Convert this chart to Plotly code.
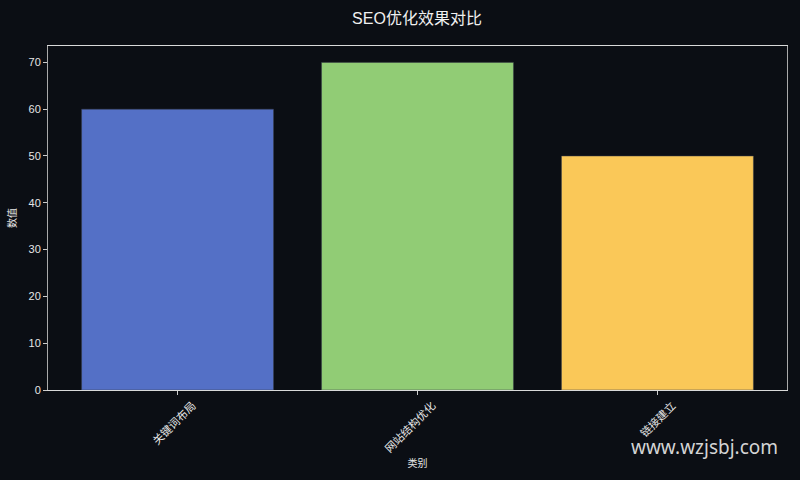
import plotly.graph_objects as go

# chart data
categories = ['关键词布局', '网站结构优化', '链接建立']
values = [60, 70, 50]
bar_colors = ['#5470c6', '#91cc75', '#fac858']

title_text = 'SEO优化效果对比'
x_title = '类别'
y_title = '数值'
watermark = 'www.wzjsbj.com'

bg = '#0b0e14'
fg = '#e6e6e6'
font_family = 'Liberation Sans, Noto Sans CJK SC, sans-serif'

fig = go.Figure(data=[go.Bar(
    x=list(range(len(categories))),
    y=values,
    width=0.8,
    marker_color=bar_colors,
    marker_line_color='#3a3f4a',
    marker_line_width=0.5,
)])

fig.update_layout(
    width=800,
    height=480,
    paper_bgcolor=bg,
    plot_bgcolor=bg,
    font=dict(family=font_family, size=11, color=fg),
    margin=dict(l=47, r=12, t=46, b=89),
    showlegend=False,
    title=dict(
        text=title_text,
        x=417 / 800,
        xanchor='center',
        y=1 - 18 / 480,
        yanchor='middle',
        font=dict(size=16, color='#f0f0f0'),
    ),
    xaxis=dict(
        range=[-0.54, 2.54],
        tickmode='array',
        tickvals=list(range(len(categories))),
        ticktext=categories,
        tickangle=-45,
        ticklabelshift=15,
        ticks='outside',
        ticklen=4,
        tickcolor='#cccccc',
        showgrid=False,
        zeroline=False,
        showline=True,
        linecolor='#d9d9d9',
        linewidth=1,
        mirror=True,
        title=dict(text=x_title, font=dict(size=10), standoff=6),
    ),
    yaxis=dict(
        range=[0, 73.5],
        tickmode='linear',
        tick0=0,
        dtick=10,
        ticks='outside',
        ticklen=4,
        tickcolor='#cccccc',
        showgrid=False,
        zeroline=False,
        showline=True,
        linecolor='#aaaaaa',
        linewidth=1,
        mirror=True,
        title=dict(text=y_title, font=dict(size=10), standoff=10),
    ),
)

# watermark in the bottom right corner
fig.add_annotation(
    text=watermark,
    xref='paper', yref='paper',
    x=(781 - 47) / 741, y=(391 - 448) / 345,
    xanchor='right', yanchor='middle',
    showarrow=False,
    font=dict(family='Noto Sans, DejaVu Sans, sans-serif', size=19, color='#d4d4d4'),
)

fig.write_html("out.html", config={'displayModeBar': False},
               post_script="document.body.style.margin='0';")
